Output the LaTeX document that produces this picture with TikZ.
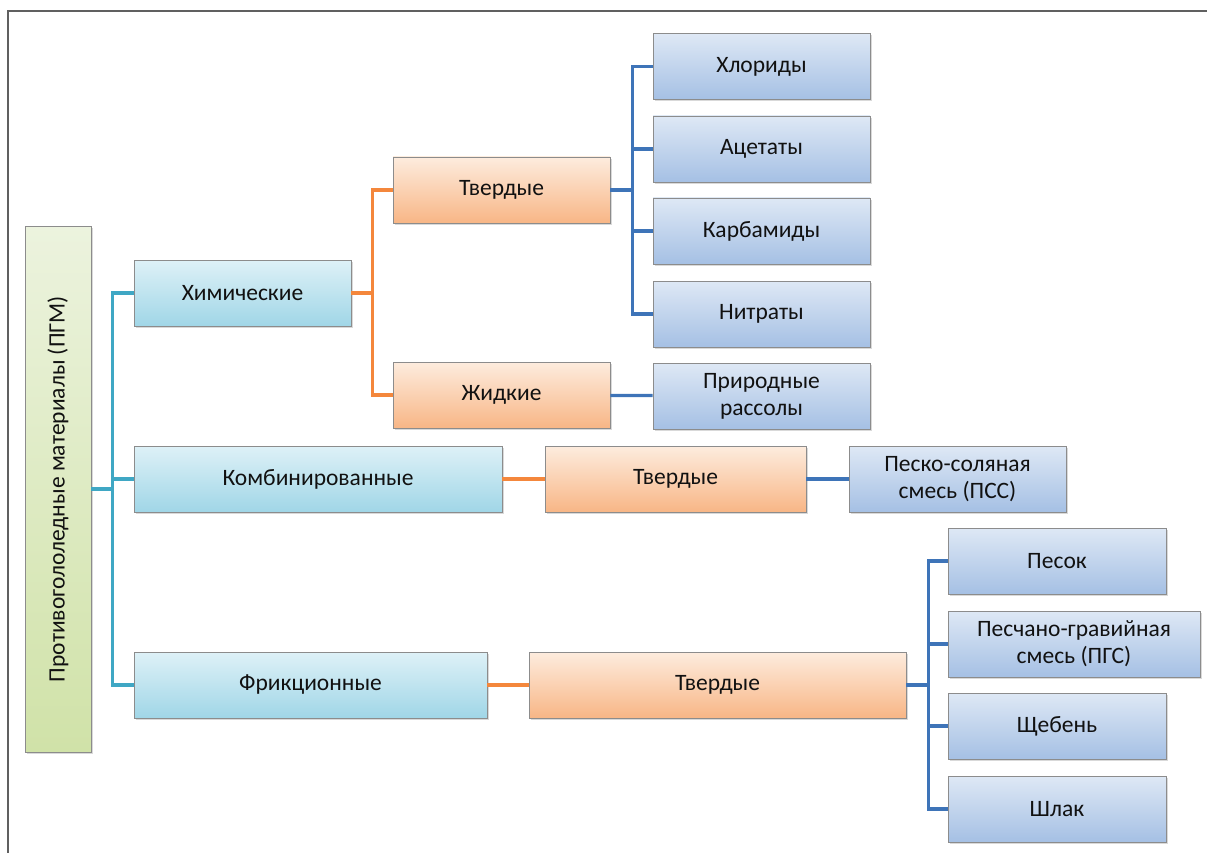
\documentclass[tikz,border=0pt]{standalone}
\usepackage{fontspec}
\setmainfont{Carlito}
\usetikzlibrary{shadows}
\definecolor{frameC}{HTML}{606060}
\definecolor{tealC}{HTML}{3FA7C4}
\definecolor{orC}{HTML}{F4873C}
\definecolor{blC}{HTML}{3E74B8}
\definecolor{txtC}{HTML}{111111}

\begin{document}
\begin{tikzpicture}[x=1pt,y=-1pt,
  box/.style={rectangle,draw=black!45,line width=0.9pt,minimum height=66pt,inner sep=2pt,align=center,
    text=txtC,font=\fontsize{23.5}{27}\selectfont,
    drop shadow={shadow xshift=2pt,shadow yshift=-2pt,opacity=0.3}},
  rootbox/.style={box,top color={rgb,255:red,236;green,243;blue,222},bottom color={rgb,255:red,208;green,226;blue,168}},
  lvlA/.style={box,top color={rgb,255:red,222;green,241;blue,247},bottom color={rgb,255:red,160;green,214;blue,231}},
  lvlB/.style={box,top color={rgb,255:red,253;green,236;blue,222},bottom color={rgb,255:red,248;green,182;blue,134}},
  lvlC/.style={box,top color={rgb,255:red,222;green,232;blue,245},bottom color={rgb,255:red,165;green,192;blue,228}},
  tline/.style={draw=tealC,line width=3.2pt},
  oline/.style={draw=orC,line width=3.2pt},
  bline/.style={draw=blC,line width=3.2pt}]
  \useasboundingbox (0,0) rectangle (1207,853);
  \draw[frameC,line width=1.6pt] (8,853) -- (8,11) -- (1207,11);

  % root and first level
  \node[rootbox,minimum width=66pt,minimum height=526pt] (root) at (58,489) {\rotatebox{90}{Противогололедные материалы (ПГМ)}};
  \node[lvlA,minimum width=217pt] (chem) at (242.5,293) {Химические};
  \node[lvlA,minimum width=368pt] (komb) at (318,479) {Комбинированные};
  \node[lvlA,minimum width=353pt] (fric) at (310.5,685) {Фрикционные};

  % second level
  \node[lvlB,minimum width=217pt] (tv1) at (501.5,190) {Твердые};
  \node[lvlB,minimum width=217pt] (liq) at (501.5,395) {Жидкие};
  \node[lvlB,minimum width=261pt] (tv2) at (675.5,479) {Твердые};
  \node[lvlB,minimum width=377pt] (tv3) at (717.5,685) {Твердые};

  % third level
  \node[lvlC,minimum width=217pt] (chl) at (761.5,66.5) {Хлориды};
  \node[lvlC,minimum width=217pt] (ace) at (761.5,149) {Ацетаты};
  \node[lvlC,minimum width=217pt] (carb) at (761.5,231) {Карбамиды};
  \node[lvlC,minimum width=217pt] (nitr) at (761.5,314) {Нитраты};
  \node[lvlC,minimum width=217pt] (brine) at (761.5,396) {Природные\\рассолы};
  \node[lvlC,minimum width=217pt] (pss) at (957.5,479) {Песко-соляная\\смесь (ПСС)};
  \node[lvlC,minimum width=218pt] (sand) at (1057,561) {Песок};
  \node[lvlC,minimum width=252pt] (pgs) at (1074,644) {Песчано-гравийная\\смесь (ПГС)};
  \node[lvlC,minimum width=218pt] (grav) at (1057,726) {Щебень};
  \node[lvlC,minimum width=218pt] (slag) at (1057,809) {Шлак};

  % connectors
  \foreach \t in {chem,komb,fric}
    \draw[tline] (root.east) -- ++(21,0) |- (\t.west);
  \foreach \t in {tv1,liq}
    \draw[oline] (chem.east) -- ++(21,0) |- (\t.west);
  \draw[oline] (komb) -- (tv2);
  \draw[oline] (fric) -- (tv3);
  \foreach \t in {chl,ace,carb,nitr}
    \draw[bline] (tv1.east) -- ++(22,0) |- (\t.west);
  \draw[bline] (liq) -- (brine);
  \draw[bline] (tv2) -- (pss);
  \foreach \t in {sand,pgs,grav,slag}
    \draw[bline] (tv3.east) -- ++(22,0) |- (\t.west);
\end{tikzpicture}
\end{document}
